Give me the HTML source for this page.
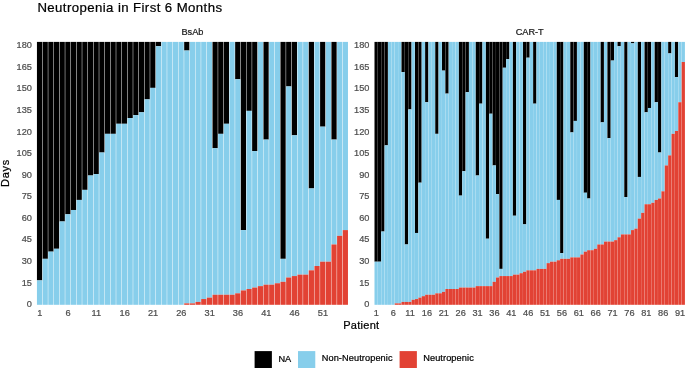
<!DOCTYPE html>
<html><head><meta charset="utf-8"><title>Neutropenia in First 6 Months</title>
<style>
html,body{margin:0;padding:0;background:#fff;}
body{width:685px;height:368px;overflow:hidden;}
svg{display:block;font-family:"Liberation Sans",sans-serif;will-change:transform;}
</style></head><body>
<svg width="685" height="368" viewBox="0 0 685 368">
<rect x="0" y="0" width="685" height="368" fill="#fff"/>
<g>
<rect x="36.947" y="41.900" width="5.210" height="238.478" fill="#000000"/>
<rect x="36.947" y="280.378" width="5.210" height="24.422" fill="#87CEEB"/>
<rect x="42.610" y="41.900" width="5.210" height="216.928" fill="#000000"/>
<rect x="42.610" y="258.828" width="5.210" height="45.972" fill="#87CEEB"/>
<rect x="48.273" y="41.900" width="5.210" height="209.745" fill="#000000"/>
<rect x="48.273" y="251.645" width="5.210" height="53.155" fill="#87CEEB"/>
<rect x="53.936" y="41.900" width="5.210" height="206.872" fill="#000000"/>
<rect x="53.936" y="248.772" width="5.210" height="56.028" fill="#87CEEB"/>
<rect x="59.599" y="41.900" width="5.210" height="179.577" fill="#000000"/>
<rect x="59.599" y="221.477" width="5.210" height="83.323" fill="#87CEEB"/>
<rect x="65.262" y="41.900" width="5.210" height="172.393" fill="#000000"/>
<rect x="65.262" y="214.293" width="5.210" height="90.507" fill="#87CEEB"/>
<rect x="70.925" y="41.900" width="5.210" height="168.084" fill="#000000"/>
<rect x="70.925" y="209.984" width="5.210" height="94.816" fill="#87CEEB"/>
<rect x="76.588" y="41.900" width="5.210" height="158.027" fill="#000000"/>
<rect x="76.588" y="199.927" width="5.210" height="104.873" fill="#87CEEB"/>
<rect x="82.251" y="41.900" width="5.210" height="147.971" fill="#000000"/>
<rect x="82.251" y="189.871" width="5.210" height="114.929" fill="#87CEEB"/>
<rect x="87.914" y="41.900" width="5.210" height="133.605" fill="#000000"/>
<rect x="87.914" y="175.505" width="5.210" height="129.295" fill="#87CEEB"/>
<rect x="93.577" y="41.900" width="5.210" height="132.168" fill="#000000"/>
<rect x="93.577" y="174.068" width="5.210" height="130.732" fill="#87CEEB"/>
<rect x="99.241" y="41.900" width="5.210" height="110.619" fill="#000000"/>
<rect x="99.241" y="152.519" width="5.210" height="152.281" fill="#87CEEB"/>
<rect x="104.904" y="41.900" width="5.210" height="91.943" fill="#000000"/>
<rect x="104.904" y="133.843" width="5.210" height="170.957" fill="#87CEEB"/>
<rect x="110.567" y="41.900" width="5.210" height="91.943" fill="#000000"/>
<rect x="110.567" y="133.843" width="5.210" height="170.957" fill="#87CEEB"/>
<rect x="116.230" y="41.900" width="5.210" height="81.887" fill="#000000"/>
<rect x="116.230" y="123.787" width="5.210" height="181.013" fill="#87CEEB"/>
<rect x="121.893" y="41.900" width="5.210" height="81.887" fill="#000000"/>
<rect x="121.893" y="123.787" width="5.210" height="181.013" fill="#87CEEB"/>
<rect x="127.556" y="41.900" width="5.210" height="76.140" fill="#000000"/>
<rect x="127.556" y="118.040" width="5.210" height="186.760" fill="#87CEEB"/>
<rect x="133.219" y="41.900" width="5.210" height="73.267" fill="#000000"/>
<rect x="133.219" y="115.167" width="5.210" height="189.633" fill="#87CEEB"/>
<rect x="138.882" y="41.900" width="5.210" height="70.394" fill="#000000"/>
<rect x="138.882" y="112.294" width="5.210" height="192.506" fill="#87CEEB"/>
<rect x="144.545" y="41.900" width="5.210" height="57.464" fill="#000000"/>
<rect x="144.545" y="99.364" width="5.210" height="205.436" fill="#87CEEB"/>
<rect x="150.208" y="41.900" width="5.210" height="45.972" fill="#000000"/>
<rect x="150.208" y="87.872" width="5.210" height="216.928" fill="#87CEEB"/>
<rect x="155.871" y="41.900" width="5.210" height="4.310" fill="#000000"/>
<rect x="155.871" y="46.210" width="5.210" height="258.590" fill="#87CEEB"/>
<rect x="161.535" y="41.900" width="5.210" height="262.900" fill="#87CEEB"/>
<rect x="167.198" y="41.900" width="5.210" height="262.900" fill="#87CEEB"/>
<rect x="172.861" y="41.900" width="5.210" height="262.900" fill="#87CEEB"/>
<rect x="178.524" y="41.900" width="5.210" height="262.900" fill="#87CEEB"/>
<rect x="184.187" y="41.900" width="5.210" height="8.620" fill="#000000"/>
<rect x="184.187" y="50.520" width="5.210" height="252.844" fill="#87CEEB"/>
<rect x="184.187" y="303.363" width="5.210" height="1.437" fill="#E24234"/>
<rect x="189.850" y="41.900" width="5.210" height="261.463" fill="#87CEEB"/>
<rect x="189.850" y="303.363" width="5.210" height="1.437" fill="#E24234"/>
<rect x="195.513" y="41.900" width="5.210" height="260.027" fill="#87CEEB"/>
<rect x="195.513" y="301.927" width="5.210" height="2.873" fill="#E24234"/>
<rect x="201.176" y="41.900" width="5.210" height="257.154" fill="#87CEEB"/>
<rect x="201.176" y="299.054" width="5.210" height="5.746" fill="#E24234"/>
<rect x="206.839" y="41.900" width="5.210" height="255.717" fill="#87CEEB"/>
<rect x="206.839" y="297.617" width="5.210" height="7.183" fill="#E24234"/>
<rect x="212.502" y="41.900" width="5.210" height="106.309" fill="#000000"/>
<rect x="212.502" y="148.209" width="5.210" height="146.534" fill="#87CEEB"/>
<rect x="212.502" y="294.744" width="5.210" height="10.056" fill="#E24234"/>
<rect x="218.165" y="41.900" width="5.210" height="91.943" fill="#000000"/>
<rect x="218.165" y="133.843" width="5.210" height="160.901" fill="#87CEEB"/>
<rect x="218.165" y="294.744" width="5.210" height="10.056" fill="#E24234"/>
<rect x="223.829" y="41.900" width="5.210" height="81.887" fill="#000000"/>
<rect x="223.829" y="123.787" width="5.210" height="170.957" fill="#87CEEB"/>
<rect x="223.829" y="294.744" width="5.210" height="10.056" fill="#E24234"/>
<rect x="229.492" y="41.900" width="5.210" height="252.844" fill="#87CEEB"/>
<rect x="229.492" y="294.744" width="5.210" height="10.056" fill="#E24234"/>
<rect x="235.155" y="41.900" width="5.210" height="37.352" fill="#000000"/>
<rect x="235.155" y="79.252" width="5.210" height="214.055" fill="#87CEEB"/>
<rect x="235.155" y="293.307" width="5.210" height="11.493" fill="#E24234"/>
<rect x="240.818" y="41.900" width="5.210" height="188.196" fill="#000000"/>
<rect x="240.818" y="230.096" width="5.210" height="60.338" fill="#87CEEB"/>
<rect x="240.818" y="290.434" width="5.210" height="14.366" fill="#E24234"/>
<rect x="246.481" y="41.900" width="5.210" height="68.957" fill="#000000"/>
<rect x="246.481" y="110.857" width="5.210" height="178.140" fill="#87CEEB"/>
<rect x="246.481" y="288.997" width="5.210" height="15.803" fill="#E24234"/>
<rect x="252.144" y="41.900" width="5.210" height="109.183" fill="#000000"/>
<rect x="252.144" y="151.083" width="5.210" height="136.478" fill="#87CEEB"/>
<rect x="252.144" y="287.561" width="5.210" height="17.239" fill="#E24234"/>
<rect x="257.807" y="41.900" width="5.210" height="244.224" fill="#87CEEB"/>
<rect x="257.807" y="286.124" width="5.210" height="18.676" fill="#E24234"/>
<rect x="263.470" y="41.900" width="5.210" height="97.690" fill="#000000"/>
<rect x="263.470" y="139.590" width="5.210" height="145.098" fill="#87CEEB"/>
<rect x="263.470" y="284.687" width="5.210" height="20.113" fill="#E24234"/>
<rect x="269.133" y="41.900" width="5.210" height="242.787" fill="#87CEEB"/>
<rect x="269.133" y="284.687" width="5.210" height="20.113" fill="#E24234"/>
<rect x="274.796" y="41.900" width="5.210" height="241.351" fill="#87CEEB"/>
<rect x="274.796" y="283.251" width="5.210" height="21.549" fill="#E24234"/>
<rect x="280.459" y="41.900" width="5.210" height="216.928" fill="#000000"/>
<rect x="280.459" y="258.828" width="5.210" height="22.986" fill="#87CEEB"/>
<rect x="280.459" y="281.814" width="5.210" height="22.986" fill="#E24234"/>
<rect x="286.123" y="41.900" width="5.210" height="44.535" fill="#000000"/>
<rect x="286.123" y="86.435" width="5.210" height="191.069" fill="#87CEEB"/>
<rect x="286.123" y="277.504" width="5.210" height="27.296" fill="#E24234"/>
<rect x="291.786" y="41.900" width="5.210" height="93.380" fill="#000000"/>
<rect x="291.786" y="135.280" width="5.210" height="140.788" fill="#87CEEB"/>
<rect x="291.786" y="276.068" width="5.210" height="28.732" fill="#E24234"/>
<rect x="297.449" y="41.900" width="5.210" height="232.731" fill="#87CEEB"/>
<rect x="297.449" y="274.631" width="5.210" height="30.169" fill="#E24234"/>
<rect x="303.112" y="41.900" width="5.210" height="232.731" fill="#87CEEB"/>
<rect x="303.112" y="274.631" width="5.210" height="30.169" fill="#E24234"/>
<rect x="308.775" y="41.900" width="5.210" height="146.534" fill="#000000"/>
<rect x="308.775" y="188.434" width="5.210" height="81.887" fill="#87CEEB"/>
<rect x="308.775" y="270.321" width="5.210" height="34.479" fill="#E24234"/>
<rect x="314.438" y="41.900" width="5.210" height="224.111" fill="#87CEEB"/>
<rect x="314.438" y="266.011" width="5.210" height="38.789" fill="#E24234"/>
<rect x="320.101" y="41.900" width="5.210" height="84.760" fill="#000000"/>
<rect x="320.101" y="126.660" width="5.210" height="135.042" fill="#87CEEB"/>
<rect x="320.101" y="261.702" width="5.210" height="43.098" fill="#E24234"/>
<rect x="325.764" y="41.900" width="5.210" height="219.802" fill="#87CEEB"/>
<rect x="325.764" y="261.702" width="5.210" height="43.098" fill="#E24234"/>
<rect x="331.427" y="41.900" width="5.210" height="97.690" fill="#000000"/>
<rect x="331.427" y="139.590" width="5.210" height="104.873" fill="#87CEEB"/>
<rect x="331.427" y="244.462" width="5.210" height="60.338" fill="#E24234"/>
<rect x="337.090" y="41.900" width="5.210" height="193.943" fill="#87CEEB"/>
<rect x="337.090" y="235.843" width="5.210" height="68.957" fill="#E24234"/>
<rect x="342.753" y="41.900" width="5.210" height="188.196" fill="#87CEEB"/>
<rect x="342.753" y="230.096" width="5.210" height="74.704" fill="#E24234"/>
</g>
<g>
<rect x="374.498" y="41.900" width="3.241" height="219.802" fill="#000000"/>
<rect x="374.498" y="261.702" width="3.241" height="43.098" fill="#87CEEB"/>
<rect x="377.873" y="41.900" width="3.241" height="219.802" fill="#000000"/>
<rect x="377.873" y="261.702" width="3.241" height="43.098" fill="#87CEEB"/>
<rect x="381.249" y="41.900" width="3.241" height="189.633" fill="#000000"/>
<rect x="381.249" y="231.533" width="3.241" height="73.267" fill="#87CEEB"/>
<rect x="384.624" y="41.900" width="3.241" height="103.436" fill="#000000"/>
<rect x="384.624" y="145.336" width="3.241" height="159.464" fill="#87CEEB"/>
<rect x="388.000" y="41.900" width="3.241" height="262.900" fill="#87CEEB"/>
<rect x="391.375" y="41.900" width="3.241" height="262.900" fill="#87CEEB"/>
<rect x="394.751" y="41.900" width="3.241" height="261.463" fill="#87CEEB"/>
<rect x="394.751" y="303.363" width="3.241" height="1.437" fill="#E24234"/>
<rect x="398.126" y="41.900" width="3.241" height="261.463" fill="#87CEEB"/>
<rect x="398.126" y="303.363" width="3.241" height="1.437" fill="#E24234"/>
<rect x="401.502" y="41.900" width="3.241" height="30.169" fill="#000000"/>
<rect x="401.502" y="72.069" width="3.241" height="229.858" fill="#87CEEB"/>
<rect x="401.502" y="301.927" width="3.241" height="2.873" fill="#E24234"/>
<rect x="404.877" y="41.900" width="3.241" height="202.562" fill="#000000"/>
<rect x="404.877" y="244.462" width="3.241" height="57.464" fill="#87CEEB"/>
<rect x="404.877" y="301.927" width="3.241" height="2.873" fill="#E24234"/>
<rect x="408.253" y="41.900" width="3.241" height="67.521" fill="#000000"/>
<rect x="408.253" y="109.421" width="3.241" height="192.506" fill="#87CEEB"/>
<rect x="408.253" y="301.927" width="3.241" height="2.873" fill="#E24234"/>
<rect x="411.628" y="41.900" width="3.241" height="257.872" fill="#87CEEB"/>
<rect x="411.628" y="299.772" width="3.241" height="5.028" fill="#E24234"/>
<rect x="415.004" y="41.900" width="3.241" height="191.069" fill="#000000"/>
<rect x="415.004" y="232.969" width="3.241" height="66.084" fill="#87CEEB"/>
<rect x="415.004" y="299.054" width="3.241" height="5.746" fill="#E24234"/>
<rect x="418.380" y="41.900" width="3.241" height="140.788" fill="#000000"/>
<rect x="418.380" y="182.688" width="3.241" height="114.929" fill="#87CEEB"/>
<rect x="418.380" y="297.617" width="3.241" height="7.183" fill="#E24234"/>
<rect x="421.755" y="41.900" width="3.241" height="254.280" fill="#87CEEB"/>
<rect x="421.755" y="296.180" width="3.241" height="8.620" fill="#E24234"/>
<rect x="425.131" y="41.900" width="3.241" height="60.338" fill="#000000"/>
<rect x="425.131" y="102.238" width="3.241" height="192.506" fill="#87CEEB"/>
<rect x="425.131" y="294.744" width="3.241" height="10.056" fill="#E24234"/>
<rect x="428.506" y="41.900" width="3.241" height="252.844" fill="#87CEEB"/>
<rect x="428.506" y="294.744" width="3.241" height="10.056" fill="#E24234"/>
<rect x="431.882" y="41.900" width="3.241" height="252.844" fill="#87CEEB"/>
<rect x="431.882" y="294.744" width="3.241" height="10.056" fill="#E24234"/>
<rect x="435.257" y="41.900" width="3.241" height="91.943" fill="#000000"/>
<rect x="435.257" y="133.843" width="3.241" height="159.464" fill="#87CEEB"/>
<rect x="435.257" y="293.307" width="3.241" height="11.493" fill="#E24234"/>
<rect x="438.633" y="41.900" width="3.241" height="251.407" fill="#87CEEB"/>
<rect x="438.633" y="293.307" width="3.241" height="11.493" fill="#E24234"/>
<rect x="442.008" y="41.900" width="3.241" height="28.732" fill="#000000"/>
<rect x="442.008" y="70.632" width="3.241" height="221.238" fill="#87CEEB"/>
<rect x="442.008" y="291.870" width="3.241" height="12.930" fill="#E24234"/>
<rect x="445.384" y="41.900" width="3.241" height="51.718" fill="#000000"/>
<rect x="445.384" y="93.618" width="3.241" height="195.379" fill="#87CEEB"/>
<rect x="445.384" y="288.997" width="3.241" height="15.803" fill="#E24234"/>
<rect x="448.759" y="41.900" width="3.241" height="247.097" fill="#87CEEB"/>
<rect x="448.759" y="288.997" width="3.241" height="15.803" fill="#E24234"/>
<rect x="452.135" y="41.900" width="3.241" height="247.097" fill="#87CEEB"/>
<rect x="452.135" y="288.997" width="3.241" height="15.803" fill="#E24234"/>
<rect x="455.511" y="41.900" width="3.241" height="247.097" fill="#87CEEB"/>
<rect x="455.511" y="288.997" width="3.241" height="15.803" fill="#E24234"/>
<rect x="458.886" y="41.900" width="3.241" height="153.717" fill="#000000"/>
<rect x="458.886" y="195.617" width="3.241" height="91.943" fill="#87CEEB"/>
<rect x="458.886" y="287.561" width="3.241" height="17.239" fill="#E24234"/>
<rect x="462.262" y="41.900" width="3.241" height="129.295" fill="#000000"/>
<rect x="462.262" y="171.195" width="3.241" height="116.366" fill="#87CEEB"/>
<rect x="462.262" y="287.561" width="3.241" height="17.239" fill="#E24234"/>
<rect x="465.637" y="41.900" width="3.241" height="50.281" fill="#000000"/>
<rect x="465.637" y="92.181" width="3.241" height="195.379" fill="#87CEEB"/>
<rect x="465.637" y="287.561" width="3.241" height="17.239" fill="#E24234"/>
<rect x="469.013" y="41.900" width="3.241" height="245.661" fill="#87CEEB"/>
<rect x="469.013" y="287.561" width="3.241" height="17.239" fill="#E24234"/>
<rect x="472.388" y="41.900" width="3.241" height="245.661" fill="#87CEEB"/>
<rect x="472.388" y="287.561" width="3.241" height="17.239" fill="#E24234"/>
<rect x="475.764" y="41.900" width="3.241" height="133.605" fill="#000000"/>
<rect x="475.764" y="175.505" width="3.241" height="110.619" fill="#87CEEB"/>
<rect x="475.764" y="286.124" width="3.241" height="18.676" fill="#E24234"/>
<rect x="479.139" y="41.900" width="3.241" height="61.774" fill="#000000"/>
<rect x="479.139" y="103.674" width="3.241" height="182.450" fill="#87CEEB"/>
<rect x="479.139" y="286.124" width="3.241" height="18.676" fill="#E24234"/>
<rect x="482.515" y="41.900" width="3.241" height="244.224" fill="#87CEEB"/>
<rect x="482.515" y="286.124" width="3.241" height="18.676" fill="#E24234"/>
<rect x="485.890" y="41.900" width="3.241" height="196.816" fill="#000000"/>
<rect x="485.890" y="238.716" width="3.241" height="47.408" fill="#87CEEB"/>
<rect x="485.890" y="286.124" width="3.241" height="18.676" fill="#E24234"/>
<rect x="489.266" y="41.900" width="3.241" height="71.831" fill="#000000"/>
<rect x="489.266" y="113.731" width="3.241" height="172.393" fill="#87CEEB"/>
<rect x="489.266" y="286.124" width="3.241" height="18.676" fill="#E24234"/>
<rect x="492.642" y="41.900" width="3.241" height="123.549" fill="#000000"/>
<rect x="492.642" y="165.449" width="3.241" height="116.366" fill="#87CEEB"/>
<rect x="492.642" y="281.814" width="3.241" height="22.986" fill="#E24234"/>
<rect x="496.017" y="41.900" width="3.241" height="152.281" fill="#000000"/>
<rect x="496.017" y="194.181" width="3.241" height="83.323" fill="#87CEEB"/>
<rect x="496.017" y="277.504" width="3.241" height="27.296" fill="#E24234"/>
<rect x="499.393" y="41.900" width="3.241" height="226.985" fill="#000000"/>
<rect x="499.393" y="268.885" width="3.241" height="7.183" fill="#87CEEB"/>
<rect x="499.393" y="276.068" width="3.241" height="28.732" fill="#E24234"/>
<rect x="502.768" y="41.900" width="3.241" height="25.859" fill="#000000"/>
<rect x="502.768" y="67.759" width="3.241" height="208.309" fill="#87CEEB"/>
<rect x="502.768" y="276.068" width="3.241" height="28.732" fill="#E24234"/>
<rect x="506.144" y="41.900" width="3.241" height="17.239" fill="#000000"/>
<rect x="506.144" y="59.139" width="3.241" height="216.928" fill="#87CEEB"/>
<rect x="506.144" y="276.068" width="3.241" height="28.732" fill="#E24234"/>
<rect x="509.519" y="41.900" width="3.241" height="234.168" fill="#87CEEB"/>
<rect x="509.519" y="276.068" width="3.241" height="28.732" fill="#E24234"/>
<rect x="512.895" y="41.900" width="3.241" height="173.830" fill="#000000"/>
<rect x="512.895" y="215.730" width="3.241" height="58.901" fill="#87CEEB"/>
<rect x="512.895" y="274.631" width="3.241" height="30.169" fill="#E24234"/>
<rect x="516.270" y="41.900" width="3.241" height="232.731" fill="#87CEEB"/>
<rect x="516.270" y="274.631" width="3.241" height="30.169" fill="#E24234"/>
<rect x="519.646" y="41.900" width="3.241" height="231.295" fill="#87CEEB"/>
<rect x="519.646" y="273.195" width="3.241" height="31.605" fill="#E24234"/>
<rect x="523.021" y="41.900" width="3.241" height="182.450" fill="#000000"/>
<rect x="523.021" y="224.350" width="3.241" height="47.408" fill="#87CEEB"/>
<rect x="523.021" y="271.758" width="3.241" height="33.042" fill="#E24234"/>
<rect x="526.397" y="41.900" width="3.241" height="15.803" fill="#000000"/>
<rect x="526.397" y="57.703" width="3.241" height="212.619" fill="#87CEEB"/>
<rect x="526.397" y="270.321" width="3.241" height="34.479" fill="#E24234"/>
<rect x="529.773" y="41.900" width="3.241" height="228.421" fill="#87CEEB"/>
<rect x="529.773" y="270.321" width="3.241" height="34.479" fill="#E24234"/>
<rect x="533.148" y="41.900" width="3.241" height="61.774" fill="#000000"/>
<rect x="533.148" y="103.674" width="3.241" height="166.647" fill="#87CEEB"/>
<rect x="533.148" y="270.321" width="3.241" height="34.479" fill="#E24234"/>
<rect x="536.524" y="41.900" width="3.241" height="226.985" fill="#87CEEB"/>
<rect x="536.524" y="268.885" width="3.241" height="35.915" fill="#E24234"/>
<rect x="539.899" y="41.900" width="3.241" height="226.985" fill="#87CEEB"/>
<rect x="539.899" y="268.885" width="3.241" height="35.915" fill="#E24234"/>
<rect x="543.275" y="41.900" width="3.241" height="226.985" fill="#87CEEB"/>
<rect x="543.275" y="268.885" width="3.241" height="35.915" fill="#E24234"/>
<rect x="546.650" y="41.900" width="3.241" height="221.238" fill="#87CEEB"/>
<rect x="546.650" y="263.138" width="3.241" height="41.662" fill="#E24234"/>
<rect x="550.026" y="41.900" width="3.241" height="219.802" fill="#87CEEB"/>
<rect x="550.026" y="261.702" width="3.241" height="43.098" fill="#E24234"/>
<rect x="553.401" y="41.900" width="3.241" height="219.802" fill="#87CEEB"/>
<rect x="553.401" y="261.702" width="3.241" height="43.098" fill="#E24234"/>
<rect x="556.777" y="41.900" width="3.241" height="158.027" fill="#000000"/>
<rect x="556.777" y="199.927" width="3.241" height="60.338" fill="#87CEEB"/>
<rect x="556.777" y="260.265" width="3.241" height="44.535" fill="#E24234"/>
<rect x="560.152" y="41.900" width="3.241" height="211.182" fill="#000000"/>
<rect x="560.152" y="253.082" width="3.241" height="5.746" fill="#87CEEB"/>
<rect x="560.152" y="258.828" width="3.241" height="45.972" fill="#E24234"/>
<rect x="563.528" y="41.900" width="3.241" height="216.928" fill="#87CEEB"/>
<rect x="563.528" y="258.828" width="3.241" height="45.972" fill="#E24234"/>
<rect x="566.903" y="41.900" width="3.241" height="216.928" fill="#87CEEB"/>
<rect x="566.903" y="258.828" width="3.241" height="45.972" fill="#E24234"/>
<rect x="570.279" y="41.900" width="3.241" height="90.507" fill="#000000"/>
<rect x="570.279" y="132.407" width="3.241" height="124.985" fill="#87CEEB"/>
<rect x="570.279" y="257.392" width="3.241" height="47.408" fill="#E24234"/>
<rect x="573.655" y="41.900" width="3.241" height="79.014" fill="#000000"/>
<rect x="573.655" y="120.914" width="3.241" height="136.478" fill="#87CEEB"/>
<rect x="573.655" y="257.392" width="3.241" height="47.408" fill="#E24234"/>
<rect x="577.030" y="41.900" width="3.241" height="215.492" fill="#87CEEB"/>
<rect x="577.030" y="257.392" width="3.241" height="47.408" fill="#E24234"/>
<rect x="580.406" y="41.900" width="3.241" height="212.619" fill="#87CEEB"/>
<rect x="580.406" y="254.519" width="3.241" height="50.281" fill="#E24234"/>
<rect x="583.781" y="41.900" width="3.241" height="150.844" fill="#000000"/>
<rect x="583.781" y="192.744" width="3.241" height="58.901" fill="#87CEEB"/>
<rect x="583.781" y="251.645" width="3.241" height="53.155" fill="#E24234"/>
<rect x="587.157" y="41.900" width="3.241" height="156.591" fill="#000000"/>
<rect x="587.157" y="198.491" width="3.241" height="51.718" fill="#87CEEB"/>
<rect x="587.157" y="250.209" width="3.241" height="54.591" fill="#E24234"/>
<rect x="590.532" y="41.900" width="3.241" height="208.309" fill="#87CEEB"/>
<rect x="590.532" y="250.209" width="3.241" height="54.591" fill="#E24234"/>
<rect x="593.908" y="41.900" width="3.241" height="206.872" fill="#87CEEB"/>
<rect x="593.908" y="248.772" width="3.241" height="56.028" fill="#E24234"/>
<rect x="597.283" y="41.900" width="3.241" height="202.562" fill="#87CEEB"/>
<rect x="597.283" y="244.462" width="3.241" height="60.338" fill="#E24234"/>
<rect x="600.659" y="41.900" width="3.241" height="80.450" fill="#000000"/>
<rect x="600.659" y="122.350" width="3.241" height="122.112" fill="#87CEEB"/>
<rect x="600.659" y="244.462" width="3.241" height="60.338" fill="#E24234"/>
<rect x="604.034" y="41.900" width="3.241" height="199.689" fill="#87CEEB"/>
<rect x="604.034" y="241.589" width="3.241" height="63.211" fill="#E24234"/>
<rect x="607.410" y="41.900" width="3.241" height="96.253" fill="#000000"/>
<rect x="607.410" y="138.153" width="3.241" height="103.436" fill="#87CEEB"/>
<rect x="607.410" y="241.589" width="3.241" height="63.211" fill="#E24234"/>
<rect x="610.786" y="41.900" width="3.241" height="18.676" fill="#000000"/>
<rect x="610.786" y="60.576" width="3.241" height="181.013" fill="#87CEEB"/>
<rect x="610.786" y="241.589" width="3.241" height="63.211" fill="#E24234"/>
<rect x="614.161" y="41.900" width="3.241" height="198.252" fill="#87CEEB"/>
<rect x="614.161" y="240.152" width="3.241" height="64.648" fill="#E24234"/>
<rect x="617.537" y="41.900" width="3.241" height="4.310" fill="#000000"/>
<rect x="617.537" y="46.210" width="3.241" height="191.069" fill="#87CEEB"/>
<rect x="617.537" y="237.279" width="3.241" height="67.521" fill="#E24234"/>
<rect x="620.912" y="41.900" width="3.241" height="192.506" fill="#87CEEB"/>
<rect x="620.912" y="234.406" width="3.241" height="70.394" fill="#E24234"/>
<rect x="624.288" y="41.900" width="3.241" height="155.154" fill="#000000"/>
<rect x="624.288" y="197.054" width="3.241" height="37.352" fill="#87CEEB"/>
<rect x="624.288" y="234.406" width="3.241" height="70.394" fill="#E24234"/>
<rect x="627.663" y="41.900" width="3.241" height="192.506" fill="#87CEEB"/>
<rect x="627.663" y="234.406" width="3.241" height="70.394" fill="#E24234"/>
<rect x="631.039" y="41.900" width="3.241" height="1.437" fill="#000000"/>
<rect x="631.039" y="43.337" width="3.241" height="186.760" fill="#87CEEB"/>
<rect x="631.039" y="230.096" width="3.241" height="74.704" fill="#E24234"/>
<rect x="634.414" y="41.900" width="3.241" height="186.760" fill="#87CEEB"/>
<rect x="634.414" y="228.660" width="3.241" height="76.140" fill="#E24234"/>
<rect x="637.790" y="41.900" width="3.241" height="135.042" fill="#000000"/>
<rect x="637.790" y="176.942" width="3.241" height="41.662" fill="#87CEEB"/>
<rect x="637.790" y="218.603" width="3.241" height="86.197" fill="#E24234"/>
<rect x="641.165" y="41.900" width="3.241" height="170.957" fill="#87CEEB"/>
<rect x="641.165" y="212.857" width="3.241" height="91.943" fill="#E24234"/>
<rect x="644.541" y="41.900" width="3.241" height="70.394" fill="#000000"/>
<rect x="644.541" y="112.294" width="3.241" height="91.943" fill="#87CEEB"/>
<rect x="644.541" y="204.237" width="3.241" height="100.563" fill="#E24234"/>
<rect x="647.917" y="41.900" width="3.241" height="66.084" fill="#000000"/>
<rect x="647.917" y="107.984" width="3.241" height="96.253" fill="#87CEEB"/>
<rect x="647.917" y="204.237" width="3.241" height="100.563" fill="#E24234"/>
<rect x="651.292" y="41.900" width="3.241" height="160.901" fill="#87CEEB"/>
<rect x="651.292" y="202.801" width="3.241" height="101.999" fill="#E24234"/>
<rect x="654.668" y="41.900" width="3.241" height="60.338" fill="#000000"/>
<rect x="654.668" y="102.238" width="3.241" height="97.690" fill="#87CEEB"/>
<rect x="654.668" y="199.927" width="3.241" height="104.873" fill="#E24234"/>
<rect x="658.043" y="41.900" width="3.241" height="110.619" fill="#000000"/>
<rect x="658.043" y="152.519" width="3.241" height="45.972" fill="#87CEEB"/>
<rect x="658.043" y="198.491" width="3.241" height="106.309" fill="#E24234"/>
<rect x="661.419" y="41.900" width="3.241" height="149.408" fill="#87CEEB"/>
<rect x="661.419" y="191.308" width="3.241" height="113.492" fill="#E24234"/>
<rect x="664.794" y="41.900" width="3.241" height="123.549" fill="#87CEEB"/>
<rect x="664.794" y="165.449" width="3.241" height="139.351" fill="#E24234"/>
<rect x="668.170" y="41.900" width="3.241" height="11.493" fill="#000000"/>
<rect x="668.170" y="53.393" width="3.241" height="101.999" fill="#87CEEB"/>
<rect x="668.170" y="155.392" width="3.241" height="149.408" fill="#E24234"/>
<rect x="671.545" y="41.900" width="3.241" height="91.943" fill="#87CEEB"/>
<rect x="671.545" y="133.843" width="3.241" height="170.957" fill="#E24234"/>
<rect x="674.921" y="41.900" width="3.241" height="35.197" fill="#000000"/>
<rect x="674.921" y="77.097" width="3.241" height="53.873" fill="#87CEEB"/>
<rect x="674.921" y="130.970" width="3.241" height="173.830" fill="#E24234"/>
<rect x="678.296" y="41.900" width="3.241" height="60.338" fill="#87CEEB"/>
<rect x="678.296" y="102.238" width="3.241" height="202.562" fill="#E24234"/>
<rect x="681.672" y="41.900" width="3.241" height="20.113" fill="#87CEEB"/>
<rect x="681.672" y="62.013" width="3.241" height="242.787" fill="#E24234"/>
</g>
<g>
<rect x="254.6" y="351.1" width="17.28" height="17.28" fill="#000000"/>
<rect x="298.0" y="351.1" width="17.28" height="17.28" fill="#87CEEB"/>
<rect x="399.6" y="351.1" width="17.28" height="17.28" fill="#E24234"/>
</g>
<g>
<text x="31.90" y="307.25" font-size="9.2" text-anchor="end" fill="#4D4D4D" stroke="#4D4D4D" stroke-width="0.22"  >0</text>
<text x="369.40" y="307.25" font-size="9.2" text-anchor="end" fill="#4D4D4D" stroke="#4D4D4D" stroke-width="0.22"  >0</text>
<text x="31.90" y="285.66" font-size="9.2" text-anchor="end" fill="#4D4D4D" stroke="#4D4D4D" stroke-width="0.22"  >15</text>
<text x="369.40" y="285.66" font-size="9.2" text-anchor="end" fill="#4D4D4D" stroke="#4D4D4D" stroke-width="0.22"  >15</text>
<text x="31.90" y="264.07" font-size="9.2" text-anchor="end" fill="#4D4D4D" stroke="#4D4D4D" stroke-width="0.22"  >30</text>
<text x="369.40" y="264.07" font-size="9.2" text-anchor="end" fill="#4D4D4D" stroke="#4D4D4D" stroke-width="0.22"  >30</text>
<text x="31.90" y="242.48" font-size="9.2" text-anchor="end" fill="#4D4D4D" stroke="#4D4D4D" stroke-width="0.22"  >45</text>
<text x="369.40" y="242.48" font-size="9.2" text-anchor="end" fill="#4D4D4D" stroke="#4D4D4D" stroke-width="0.22"  >45</text>
<text x="31.90" y="220.89" font-size="9.2" text-anchor="end" fill="#4D4D4D" stroke="#4D4D4D" stroke-width="0.22"  >60</text>
<text x="369.40" y="220.89" font-size="9.2" text-anchor="end" fill="#4D4D4D" stroke="#4D4D4D" stroke-width="0.22"  >60</text>
<text x="31.90" y="199.30" font-size="9.2" text-anchor="end" fill="#4D4D4D" stroke="#4D4D4D" stroke-width="0.22"  >75</text>
<text x="369.40" y="199.30" font-size="9.2" text-anchor="end" fill="#4D4D4D" stroke="#4D4D4D" stroke-width="0.22"  >75</text>
<text x="31.90" y="177.70" font-size="9.2" text-anchor="end" fill="#4D4D4D" stroke="#4D4D4D" stroke-width="0.22"  >90</text>
<text x="369.40" y="177.70" font-size="9.2" text-anchor="end" fill="#4D4D4D" stroke="#4D4D4D" stroke-width="0.22"  >90</text>
<text x="31.90" y="156.11" font-size="9.2" text-anchor="end" fill="#4D4D4D" stroke="#4D4D4D" stroke-width="0.22"  >105</text>
<text x="369.40" y="156.11" font-size="9.2" text-anchor="end" fill="#4D4D4D" stroke="#4D4D4D" stroke-width="0.22"  >105</text>
<text x="31.90" y="134.52" font-size="9.2" text-anchor="end" fill="#4D4D4D" stroke="#4D4D4D" stroke-width="0.22"  >120</text>
<text x="369.40" y="134.52" font-size="9.2" text-anchor="end" fill="#4D4D4D" stroke="#4D4D4D" stroke-width="0.22"  >120</text>
<text x="31.90" y="112.93" font-size="9.2" text-anchor="end" fill="#4D4D4D" stroke="#4D4D4D" stroke-width="0.22"  >135</text>
<text x="369.40" y="112.93" font-size="9.2" text-anchor="end" fill="#4D4D4D" stroke="#4D4D4D" stroke-width="0.22"  >135</text>
<text x="31.90" y="91.34" font-size="9.2" text-anchor="end" fill="#4D4D4D" stroke="#4D4D4D" stroke-width="0.22"  >150</text>
<text x="369.40" y="91.34" font-size="9.2" text-anchor="end" fill="#4D4D4D" stroke="#4D4D4D" stroke-width="0.22"  >150</text>
<text x="31.90" y="69.75" font-size="9.2" text-anchor="end" fill="#4D4D4D" stroke="#4D4D4D" stroke-width="0.22"  >165</text>
<text x="369.40" y="69.75" font-size="9.2" text-anchor="end" fill="#4D4D4D" stroke="#4D4D4D" stroke-width="0.22"  >165</text>
<text x="31.90" y="48.16" font-size="9.2" text-anchor="end" fill="#4D4D4D" stroke="#4D4D4D" stroke-width="0.22"  >180</text>
<text x="369.40" y="48.16" font-size="9.2" text-anchor="end" fill="#4D4D4D" stroke="#4D4D4D" stroke-width="0.22"  >180</text>
<text x="39.75" y="315.60" font-size="9.2" text-anchor="middle" fill="#4D4D4D" stroke="#4D4D4D" stroke-width="0.22"  >1</text>
<text x="68.07" y="315.60" font-size="9.2" text-anchor="middle" fill="#4D4D4D" stroke="#4D4D4D" stroke-width="0.22"  >6</text>
<text x="96.38" y="315.60" font-size="9.2" text-anchor="middle" fill="#4D4D4D" stroke="#4D4D4D" stroke-width="0.22"  >11</text>
<text x="124.70" y="315.60" font-size="9.2" text-anchor="middle" fill="#4D4D4D" stroke="#4D4D4D" stroke-width="0.22"  >16</text>
<text x="153.01" y="315.60" font-size="9.2" text-anchor="middle" fill="#4D4D4D" stroke="#4D4D4D" stroke-width="0.22"  >21</text>
<text x="181.33" y="315.60" font-size="9.2" text-anchor="middle" fill="#4D4D4D" stroke="#4D4D4D" stroke-width="0.22"  >26</text>
<text x="209.64" y="315.60" font-size="9.2" text-anchor="middle" fill="#4D4D4D" stroke="#4D4D4D" stroke-width="0.22"  >31</text>
<text x="237.96" y="315.60" font-size="9.2" text-anchor="middle" fill="#4D4D4D" stroke="#4D4D4D" stroke-width="0.22"  >36</text>
<text x="266.28" y="315.60" font-size="9.2" text-anchor="middle" fill="#4D4D4D" stroke="#4D4D4D" stroke-width="0.22"  >41</text>
<text x="294.59" y="315.60" font-size="9.2" text-anchor="middle" fill="#4D4D4D" stroke="#4D4D4D" stroke-width="0.22"  >46</text>
<text x="322.91" y="315.60" font-size="9.2" text-anchor="middle" fill="#4D4D4D" stroke="#4D4D4D" stroke-width="0.22"  >51</text>
<text x="376.32" y="315.60" font-size="9.2" text-anchor="middle" fill="#4D4D4D" stroke="#4D4D4D" stroke-width="0.22"  >1</text>
<text x="393.20" y="315.60" font-size="9.2" text-anchor="middle" fill="#4D4D4D" stroke="#4D4D4D" stroke-width="0.22"  >6</text>
<text x="410.07" y="315.60" font-size="9.2" text-anchor="middle" fill="#4D4D4D" stroke="#4D4D4D" stroke-width="0.22"  >11</text>
<text x="426.95" y="315.60" font-size="9.2" text-anchor="middle" fill="#4D4D4D" stroke="#4D4D4D" stroke-width="0.22"  >16</text>
<text x="443.83" y="315.60" font-size="9.2" text-anchor="middle" fill="#4D4D4D" stroke="#4D4D4D" stroke-width="0.22"  >21</text>
<text x="460.71" y="315.60" font-size="9.2" text-anchor="middle" fill="#4D4D4D" stroke="#4D4D4D" stroke-width="0.22"  >26</text>
<text x="477.58" y="315.60" font-size="9.2" text-anchor="middle" fill="#4D4D4D" stroke="#4D4D4D" stroke-width="0.22"  >31</text>
<text x="494.46" y="315.60" font-size="9.2" text-anchor="middle" fill="#4D4D4D" stroke="#4D4D4D" stroke-width="0.22"  >36</text>
<text x="511.34" y="315.60" font-size="9.2" text-anchor="middle" fill="#4D4D4D" stroke="#4D4D4D" stroke-width="0.22"  >41</text>
<text x="528.22" y="315.60" font-size="9.2" text-anchor="middle" fill="#4D4D4D" stroke="#4D4D4D" stroke-width="0.22"  >46</text>
<text x="545.09" y="315.60" font-size="9.2" text-anchor="middle" fill="#4D4D4D" stroke="#4D4D4D" stroke-width="0.22"  >51</text>
<text x="561.97" y="315.60" font-size="9.2" text-anchor="middle" fill="#4D4D4D" stroke="#4D4D4D" stroke-width="0.22"  >56</text>
<text x="578.85" y="315.60" font-size="9.2" text-anchor="middle" fill="#4D4D4D" stroke="#4D4D4D" stroke-width="0.22"  >61</text>
<text x="595.73" y="315.60" font-size="9.2" text-anchor="middle" fill="#4D4D4D" stroke="#4D4D4D" stroke-width="0.22"  >66</text>
<text x="612.61" y="315.60" font-size="9.2" text-anchor="middle" fill="#4D4D4D" stroke="#4D4D4D" stroke-width="0.22"  >71</text>
<text x="629.48" y="315.60" font-size="9.2" text-anchor="middle" fill="#4D4D4D" stroke="#4D4D4D" stroke-width="0.22"  >76</text>
<text x="646.36" y="315.60" font-size="9.2" text-anchor="middle" fill="#4D4D4D" stroke="#4D4D4D" stroke-width="0.22"  >81</text>
<text x="663.24" y="315.60" font-size="9.2" text-anchor="middle" fill="#4D4D4D" stroke="#4D4D4D" stroke-width="0.22"  >86</text>
<text x="680.12" y="315.60" font-size="9.2" text-anchor="middle" fill="#4D4D4D" stroke="#4D4D4D" stroke-width="0.22"  >91</text>
<text x="192.46" y="35.40" font-size="9.2" text-anchor="middle" fill="#1A1A1A" stroke="#1A1A1A" stroke-width="0.22"  >BsAb</text>
<text x="529.71" y="35.40" font-size="9.2" text-anchor="middle" fill="#1A1A1A" stroke="#1A1A1A" stroke-width="0.22"  >CAR-T</text>
<text x="37.40" y="11.70" font-size="13.2" text-anchor="start" fill="#000" stroke="#000" stroke-width="0.22" textLength="184.57" lengthAdjust="spacing" >Neutropenia in First 6 Months</text>
<text x="361.20" y="329.00" font-size="11" text-anchor="middle" fill="#000" stroke="#000" stroke-width="0.22" textLength="35.96" lengthAdjust="spacing" >Patient</text>
<text transform="translate(8.6,173.4) rotate(-90)" font-size="11" text-anchor="middle" fill="#000" stroke="#000" stroke-width="0.22" textLength="27.19" lengthAdjust="spacing">Days</text>
<text x="278.40" y="362.30" font-size="9.2" text-anchor="start" fill="#000" stroke="#000" stroke-width="0.22"  >NA</text>
<text x="321.70" y="361.20" font-size="9.2" text-anchor="start" fill="#000" stroke="#000" stroke-width="0.22" textLength="70.86" lengthAdjust="spacing" >Non-Neutropenic</text>
<text x="423.20" y="361.20" font-size="9.2" text-anchor="start" fill="#000" stroke="#000" stroke-width="0.22" textLength="50.54" lengthAdjust="spacing" >Neutropenic</text>
</g>
</svg>
</body></html>
